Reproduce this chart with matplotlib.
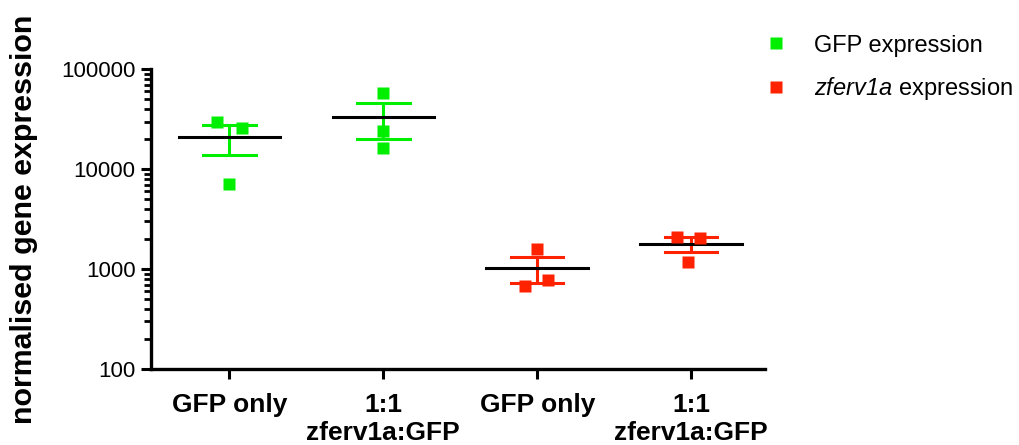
import matplotlib
matplotlib.use("Agg")
import matplotlib.pyplot as plt
import numpy as np
from matplotlib.lines import Line2D
from matplotlib.ticker import LogLocator, NullFormatter

plt.rcParams['font.family'] = ['Liberation Sans', 'DejaVu Sans']
plt.rcParams['mathtext.fontset'] = 'custom'
plt.rcParams['mathtext.it'] = 'Liberation Sans:italic'
plt.rcParams['mathtext.rm'] = 'Liberation Sans:italic'

categories = ["GFP only", "1:1\nzferv1a:GFP", "GFP only", "1:1\nzferv1a:GFP"]
gfp_only_gfp = [29700, 25900, 7130]
mix_gfp = [58300, 24300, 16400]
gfp_only_zferv = [1607, 781, 670]
mix_zferv = [2118, 2042, 1191]
groups = [gfp_only_gfp, mix_gfp, gfp_only_zferv, mix_zferv]
jitter = [[-0.08, 0.08, 0.0], [0.0, 0.0, 0.0], [0.0, 0.07, -0.08], [-0.09, 0.06, -0.02]]
legend_labels = ["GFP expression", r"$\it{zferv1a}$ expression"]
green = "#00EE00"
red = "#FF2200"
colors = [green, green, red, red]

fig = plt.figure(figsize=(10.19, 4.45), dpi=100)
ax = fig.add_axes([0.1482, 0.1708, 0.7507 - 0.1482, 0.8443 - 0.1708])

for i, (vals, jit, c) in enumerate(zip(groups, jitter, colors)):
    v = np.array(vals, dtype=float)
    m = v.mean()
    sem = v.std(ddof=1) / np.sqrt(len(v))
    ax.plot([i] * 2, [m - sem, m + sem], color=c, lw=2.2, zorder=2, solid_capstyle='butt')
    for yy in (m - sem, m + sem):
        ax.plot([i - 0.17, i + 0.17], [yy, yy], color=c, lw=2.2, zorder=2)
    ax.plot([i - 0.33, i + 0.33], [m, m], color='black', lw=2.2, zorder=3)
    ax.plot(i + np.array(jit), v, 's', color=c, ms=9, mec='none', zorder=4)

ax.set_yscale('log')
ax.set_ylim(100, 100000)
ax.set_xlim(-0.51, 3.48)
ax.set_xticks(range(4))
ax.set_xticklabels(categories, fontsize=19, fontweight='bold', linespacing=1.25)
ax.set_yticks([100, 1000, 10000, 100000])
ax.set_yticklabels(["100", "1000", "10000", "100000"], fontsize=16)
ax.yaxis.set_minor_locator(LogLocator(base=10, subs=np.arange(2, 10)))
ax.yaxis.set_minor_formatter(NullFormatter())
ax.tick_params(axis='y', which='major', length=7, width=2.2, pad=4)
ax.tick_params(axis='y', which='minor', length=5, width=2.0)
ax.tick_params(axis='x', which='major', length=7, width=2.2, pad=10)
for s in ('top', 'right'):
    ax.spines[s].set_visible(False)
for s in ('left', 'bottom'):
    ax.spines[s].set_linewidth(2.4)

ax.set_ylabel("normalised gene expression", fontsize=21.9, fontweight='bold')
ax.yaxis.set_label_coords(-0.184, 0.5)

handles = [Line2D([], [], marker='s', ls='none', color=green, mec='none', ms=9),
           Line2D([], [], marker='s', ls='none', color=red, mec='none', ms=9)]
fig.legend(handles, legend_labels, loc='upper left',
           bbox_to_anchor=(0.727, 0.97), frameon=False, fontsize=17,
           handletextpad=1.0, labelspacing=0.8, handlelength=1.2)
fig.savefig("out.png", dpi=100)
